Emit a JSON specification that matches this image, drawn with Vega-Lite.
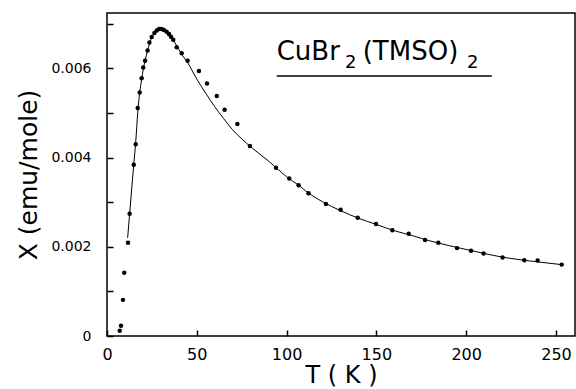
{
  "$schema": "https://vega.github.io/schema/vega-lite/v6.json",
  "width": 468,
  "height": 323,
  "autosize": {"type": "none"},
  "padding": {"left": 107, "top": 13, "right": 1, "bottom": 53},
  "background": "white",
  "config": {
    "view": {"stroke": "black", "strokeWidth": 1.5},
    "font": "DejaVu Sans"
  },
  "datasets": {
    "points": [
      {"T": 7.1, "chi": 0.00012}, {"T": 7.8, "chi": 0.00023}, {"T": 8.9, "chi": 0.00081},
      {"T": 9.6, "chi": 0.00142}, {"T": 11.7, "chi": 0.00209}, {"T": 12.6, "chi": 0.00274},
      {"T": 14.9, "chi": 0.00384}, {"T": 16.0, "chi": 0.0043}, {"T": 17.1, "chi": 0.00511},
      {"T": 18.2, "chi": 0.00546}, {"T": 19.3, "chi": 0.00578}, {"T": 20.2, "chi": 0.00602},
      {"T": 21.2, "chi": 0.00617}, {"T": 22.6, "chi": 0.0064}, {"T": 23.6, "chi": 0.00658},
      {"T": 24.9, "chi": 0.0067}, {"T": 26.4, "chi": 0.00679}, {"T": 27.7, "chi": 0.00685},
      {"T": 29.0, "chi": 0.00688}, {"T": 30.4, "chi": 0.00688}, {"T": 31.7, "chi": 0.00686},
      {"T": 33.2, "chi": 0.00682}, {"T": 34.5, "chi": 0.00677}, {"T": 35.6, "chi": 0.00671},
      {"T": 36.9, "chi": 0.00664}, {"T": 38.8, "chi": 0.00647}, {"T": 41.6, "chi": 0.00634},
      {"T": 44.9, "chi": 0.00617}, {"T": 51.2, "chi": 0.00594}, {"T": 55.7, "chi": 0.00566},
      {"T": 61.1, "chi": 0.00538}, {"T": 65.5, "chi": 0.00507}, {"T": 72.6, "chi": 0.00475},
      {"T": 79.6, "chi": 0.00426}, {"T": 94.1, "chi": 0.00377}, {"T": 101.5, "chi": 0.00353},
      {"T": 106.7, "chi": 0.00338}, {"T": 112.2, "chi": 0.0032}, {"T": 121.9, "chi": 0.00296},
      {"T": 130.1, "chi": 0.00283}, {"T": 139.6, "chi": 0.00265}, {"T": 149.8, "chi": 0.00251},
      {"T": 158.9, "chi": 0.00237}, {"T": 168.0, "chi": 0.00229}, {"T": 177.1, "chi": 0.00215},
      {"T": 184.5, "chi": 0.00209}, {"T": 194.9, "chi": 0.00197}, {"T": 202.7, "chi": 0.00191},
      {"T": 209.7, "chi": 0.00185}, {"T": 220.3, "chi": 0.00176}, {"T": 232.4, "chi": 0.0017},
      {"T": 239.8, "chi": 0.00169}, {"T": 253.2, "chi": 0.0016}
    ],
    "fit": [
      {"T": 11.5, "chi": 0.0022}, {"T": 12.6, "chi": 0.00274}, {"T": 14.9, "chi": 0.00384},
      {"T": 16.0, "chi": 0.00435}, {"T": 17.1, "chi": 0.005}, {"T": 18.2, "chi": 0.00545},
      {"T": 19.3, "chi": 0.00576}, {"T": 20.2, "chi": 0.00598}, {"T": 21.2, "chi": 0.00617},
      {"T": 22.6, "chi": 0.0064}, {"T": 24.0, "chi": 0.00659}, {"T": 25.0, "chi": 0.0067},
      {"T": 27.0, "chi": 0.00683}, {"T": 29.0, "chi": 0.00688}, {"T": 31.0, "chi": 0.00687},
      {"T": 33.0, "chi": 0.00682}, {"T": 35.0, "chi": 0.00674}, {"T": 37.0, "chi": 0.00663},
      {"T": 40.0, "chi": 0.00642}, {"T": 42.0, "chi": 0.00629}, {"T": 45.0, "chi": 0.00612},
      {"T": 50.0, "chi": 0.00576}, {"T": 55.0, "chi": 0.00544}, {"T": 60.0, "chi": 0.00514},
      {"T": 65.0, "chi": 0.00487}, {"T": 70.0, "chi": 0.00462}, {"T": 75.0, "chi": 0.00442},
      {"T": 80.0, "chi": 0.00424}, {"T": 90.0, "chi": 0.00392}, {"T": 94.0, "chi": 0.00378},
      {"T": 100.0, "chi": 0.00357}, {"T": 106.7, "chi": 0.00338}, {"T": 112.0, "chi": 0.00321},
      {"T": 120.0, "chi": 0.00301}, {"T": 130.0, "chi": 0.00281}, {"T": 140.0, "chi": 0.00264},
      {"T": 150.0, "chi": 0.0025}, {"T": 160.0, "chi": 0.00236}, {"T": 170.0, "chi": 0.00225},
      {"T": 180.0, "chi": 0.00213}, {"T": 190.0, "chi": 0.00203}, {"T": 200.0, "chi": 0.00194},
      {"T": 210.0, "chi": 0.00185}, {"T": 220.0, "chi": 0.00177}, {"T": 230.0, "chi": 0.00171},
      {"T": 240.0, "chi": 0.00166}, {"T": 253.2, "chi": 0.0016}
    ],
    "labelMain": [
      {"text": "CuBr", "T": 94.5, "chi": 0.00619},
      {"text": "(TMSO)", "T": 142.4, "chi": 0.00619}
    ],
    "labelSub": [
      {"text": "2", "T": 132.5, "chi": 0.00601},
      {"text": "2", "T": 200.5, "chi": 0.00601}
    ],
    "underline": [
      {"T1": 94.5, "T2": 214.3, "chi": 0.00583}
    ]
  },
  "layer": [
    {
      "data": {"name": "points"},
      "mark": {"type": "circle", "color": "black", "opacity": 1, "size": 20},
      "encoding": {
        "x": {
          "field": "T", "type": "quantitative",
          "scale": {"domain": [0, 260.6], "nice": false},
          "axis": {
            "orient": "bottom",
            "values": [0, 50, 100, 150, 200, 250],
            "grid": false,
            "domain": false,
            "tickSize": -6,
            "tickColor": "black",
            "tickWidth": 1.5,
            "labelColor": "black",
            "labelFlush": false,
            "labelFontSize": 16,
            "labelPadding": 16,
            "title": "T ( K )",
            "titleColor": "black",
            "titleFontWeight": "normal",
            "titleFontSize": 24,
            "titlePadding": 1
          }
        },
        "y": {
          "field": "chi", "type": "quantitative",
          "scale": {"domain": [0, 0.00724], "nice": false},
          "axis": {
            "orient": "left",
            "values": [0, 0.001, 0.002, 0.003, 0.004, 0.005, 0.006, 0.007],
            "labelExpr": "datum.value == 0 ? '0' : (round(datum.value * 1000) % 2 == 0 ? format(datum.value, '.3f') : '')",
            "grid": false,
            "domain": false,
            "tickSize": -6,
            "tickColor": "black",
            "tickWidth": 1.5,
            "labelColor": "black",
            "labelFlush": false,
            "labelOverlap": false,
            "labelFontSize": 14,
            "labelPadding": 22,
            "title": "X  (emu/mole)",
            "titleColor": "black",
            "titleFontWeight": "normal",
            "titleFontSize": 25,
            "titlePadding": 9
          }
        }
      }
    },
    {
      "data": {"name": "fit"},
      "mark": {"type": "line", "color": "black", "strokeWidth": 1, "interpolate": "monotone"},
      "encoding": {
        "x": {"field": "T", "type": "quantitative"},
        "y": {"field": "chi", "type": "quantitative"}
      }
    },
    {
      "data": {"name": "labelMain"},
      "mark": {"type": "text", "align": "left", "baseline": "alphabetic", "fontSize": 26, "color": "black"},
      "encoding": {
        "x": {"field": "T", "type": "quantitative"},
        "y": {"field": "chi", "type": "quantitative"},
        "text": {"field": "text"}
      }
    },
    {
      "data": {"name": "labelSub"},
      "mark": {"type": "text", "align": "left", "baseline": "alphabetic", "fontSize": 18, "color": "black"},
      "encoding": {
        "x": {"field": "T", "type": "quantitative"},
        "y": {"field": "chi", "type": "quantitative"},
        "text": {"field": "text"}
      }
    },
    {
      "data": {"name": "underline"},
      "mark": {"type": "rule", "color": "black", "strokeWidth": 1.5},
      "encoding": {
        "x": {"field": "T1", "type": "quantitative"},
        "x2": {"field": "T2"},
        "y": {"field": "chi", "type": "quantitative"}
      }
    }
  ]
}
